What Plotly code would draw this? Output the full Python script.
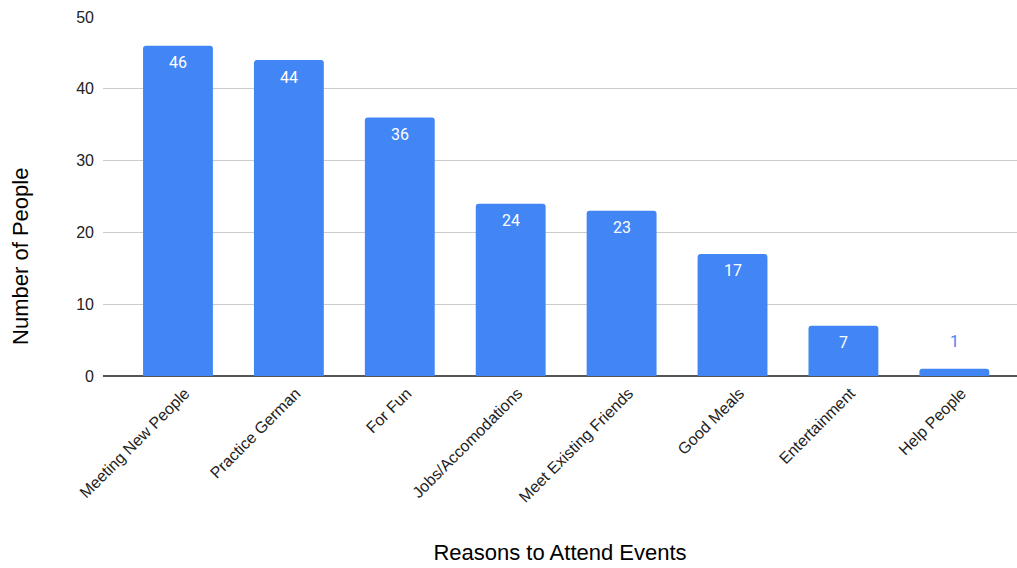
import plotly.graph_objects as go

# Survey results: why people attend the events
reasons = [
    "Meeting New People",
    "Practice German",
    "For Fun",
    "Jobs/Accomodations",
    "Meet Existing Friends",
    "Good Meals",
    "Entertainment",
    "Help People",
]
counts = [46, 44, 36, 24, 23, 17, 7, 1]

y_ticks = [0, 10, 20, 30, 40, 50]

BAR_COLOR = "#4285F4"
FONT = "Liberation Sans, Arial, sans-serif"

fig = go.Figure(
    go.Bar(
        x=reasons,
        y=counts,
        marker=dict(color=BAR_COLOR, cornerradius=3, line=dict(width=0)),
        width=0.63,
        hoverinfo="x+y",
    )
)

# Value labels: inside the bar top when it fits, above it otherwise
for name, v in zip(reasons, counts):
    inside = v >= 5
    fig.add_annotation(
        x=name,
        y=v,
        text=str(v),
        showarrow=False,
        yshift=-17 if inside else 27,
        font=dict(family="Roboto, sans-serif", size=16,
                  color="white" if inside else BAR_COLOR),
    )

# Vertical axis title, centred on the full chart height
fig.add_annotation(
    xref="paper", yref="paper",
    x=-0.091, y=0.334,
    text="Number of People",
    textangle=-90,
    showarrow=False,
    xanchor="center", yanchor="middle",
    font=dict(family=FONT, size=22, color="#000"),
)

fig.update_layout(
    width=1017,
    height=568,
    margin=dict(l=103, r=0, t=17, b=192),
    plot_bgcolor="white",
    paper_bgcolor="white",
    showlegend=False,
    font=dict(family=FONT, size=16, color="#222"),
    xaxis=dict(
        range=[-0.676, 7.565],
        tickangle=-45,
        tickfont=dict(size=16, color="#222"),
        showgrid=False,
        ticks="",
        ticklabelstandoff=4,
        ticklabelshift=7,
        title=dict(text="Reasons to Attend Events",
                   font=dict(size=22, color="#000"), standoff=40),
    ),
    yaxis=dict(
        range=[0, 50],
        tickvals=y_ticks,
        tickfont=dict(size=16, color="#222"),
        gridcolor="#cccccc",
        gridwidth=1,
        zeroline=True,
        zerolinecolor="#555555",
        zerolinewidth=2,
        ticks="",
        ticklabelstandoff=8,
    ),
)

fig.write_html("out.html")
